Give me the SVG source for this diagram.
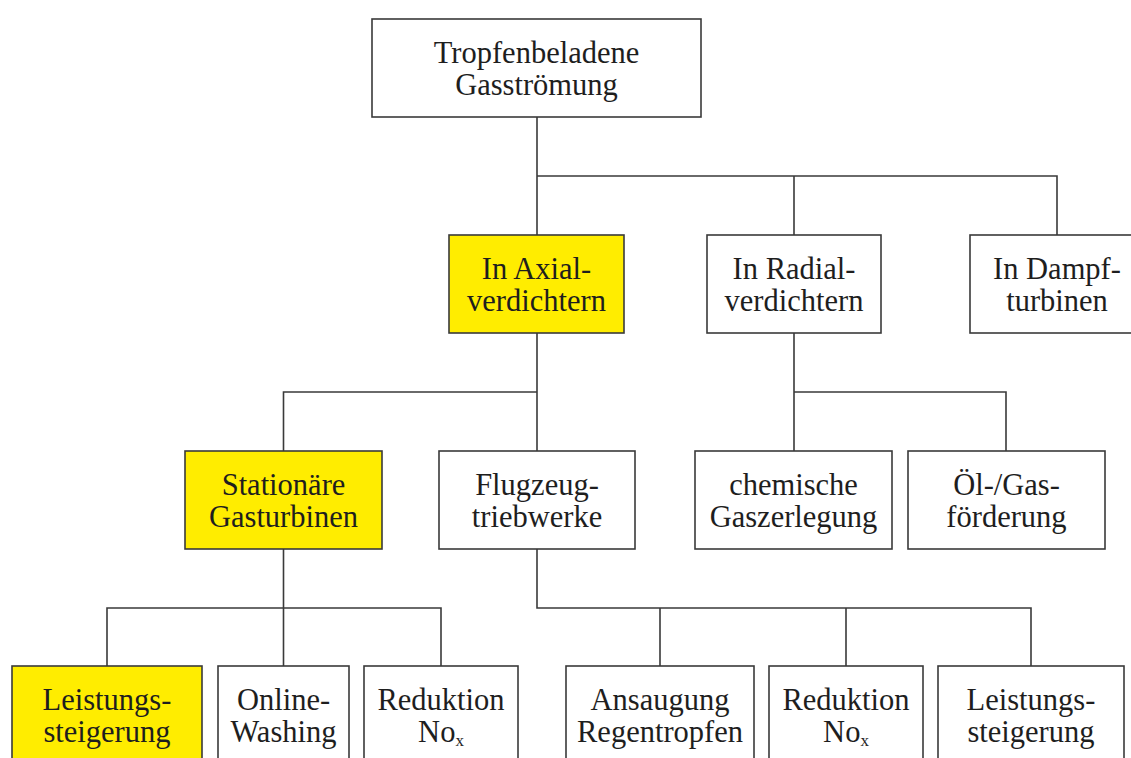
<svg xmlns="http://www.w3.org/2000/svg" width="1131" height="758" viewBox="0 0 1131 758">
<style>
.b{fill:#fff;stroke:#3a3a3a;stroke-width:1.6}
.y{fill:#ffed00;stroke:#3a3a3a;stroke-width:1.6}
.t{font-family:"Liberation Serif","Times New Roman",serif;font-size:30.5px;fill:#1e1e1e;text-anchor:middle}
.c{fill:none;stroke:#3a3a3a;stroke-width:1.6}
</style>
<rect width="1131" height="758" fill="#fff"/>
<g id="connectors" class="c">
<path d="M537 117V235M537 176H1057V235M794 176V235"/>
<path d="M537 333V451M537 392H283.5V451"/>
<path d="M794 333V451M794 392H1006V451"/>
<path d="M283.5 549V666M107 666V608H441V666"/>
<path d="M537 549V608H1031V666M660 608V666M846 608V666"/>
</g>
<g id="n-top"><rect class="b" x="372" y="19" width="329" height="98"/><text class="t"><tspan x="536.5" y="62.5">Tropfenbeladene</tspan><tspan x="536.5" y="94.5">Gasströmung</tspan></text></g>
<g id="n-axial"><rect class="y" x="449" y="235" width="175" height="98"/><text class="t"><tspan x="536.5" y="278.5">In Axial-</tspan><tspan x="536.5" y="310.5">verdichtern</tspan></text></g>
<g id="n-radial"><rect class="b" x="707" y="235" width="174" height="98"/><text class="t"><tspan x="794" y="278.5">In Radial-</tspan><tspan x="794" y="310.5">verdichtern</tspan></text></g>
<g id="n-dampf"><rect class="b" x="970" y="235" width="174" height="98"/><text class="t"><tspan x="1057" y="278.5">In Dampf-</tspan><tspan x="1057" y="310.5">turbinen</tspan></text></g>
<g id="n-stat"><rect class="y" x="185" y="451" width="197" height="98"/><text class="t"><tspan x="283.5" y="494.5">Stationäre</tspan><tspan x="283.5" y="526.5">Gasturbinen</tspan></text></g>
<g id="n-flug"><rect class="b" x="439" y="451" width="196" height="98"/><text class="t"><tspan x="537" y="494.5">Flugzeug-</tspan><tspan x="537" y="526.5">triebwerke</tspan></text></g>
<g id="n-chem"><rect class="b" x="695" y="451" width="197" height="98"/><text class="t"><tspan x="793.5" y="494.5">chemische</tspan><tspan x="793.5" y="526.5">Gaszerlegung</tspan></text></g>
<g id="n-oel"><rect class="b" x="908" y="451" width="197" height="98"/><text class="t"><tspan x="1006.5" y="494.5">Öl-/Gas-</tspan><tspan x="1006.5" y="526.5">förderung</tspan></text></g>
<g id="n-leist1"><rect class="y" x="12" y="666" width="190" height="98"/><text class="t"><tspan x="107" y="709.5">Leistungs-</tspan><tspan x="107" y="741.5">steigerung</tspan></text></g>
<g id="n-online"><rect class="b" x="218" y="666" width="131" height="98"/><text class="t"><tspan x="283.5" y="709.5">Online-</tspan><tspan x="283.5" y="741.5">Washing</tspan></text></g>
<g id="n-red1"><rect class="b" x="364" y="666" width="154" height="98"/><text class="t"><tspan x="441" y="709.5">Reduktion</tspan><tspan x="441" y="741.5">No<tspan font-size="17" dy="4">x</tspan></tspan></text></g>
<g id="n-ansaug"><rect class="b" x="566" y="666" width="188" height="98"/><text class="t"><tspan x="660" y="709.5">Ansaugung</tspan><tspan x="660" y="741.5">Regentropfen</tspan></text></g>
<g id="n-red2"><rect class="b" x="769" y="666" width="154" height="98"/><text class="t"><tspan x="846" y="709.5">Reduktion</tspan><tspan x="846" y="741.5">No<tspan font-size="17" dy="4">x</tspan></tspan></text></g>
<g id="n-leist2"><rect class="b" x="938" y="666" width="186" height="98"/><text class="t"><tspan x="1031" y="709.5">Leistungs-</tspan><tspan x="1031" y="741.5">steigerung</tspan></text></g>
</svg>
